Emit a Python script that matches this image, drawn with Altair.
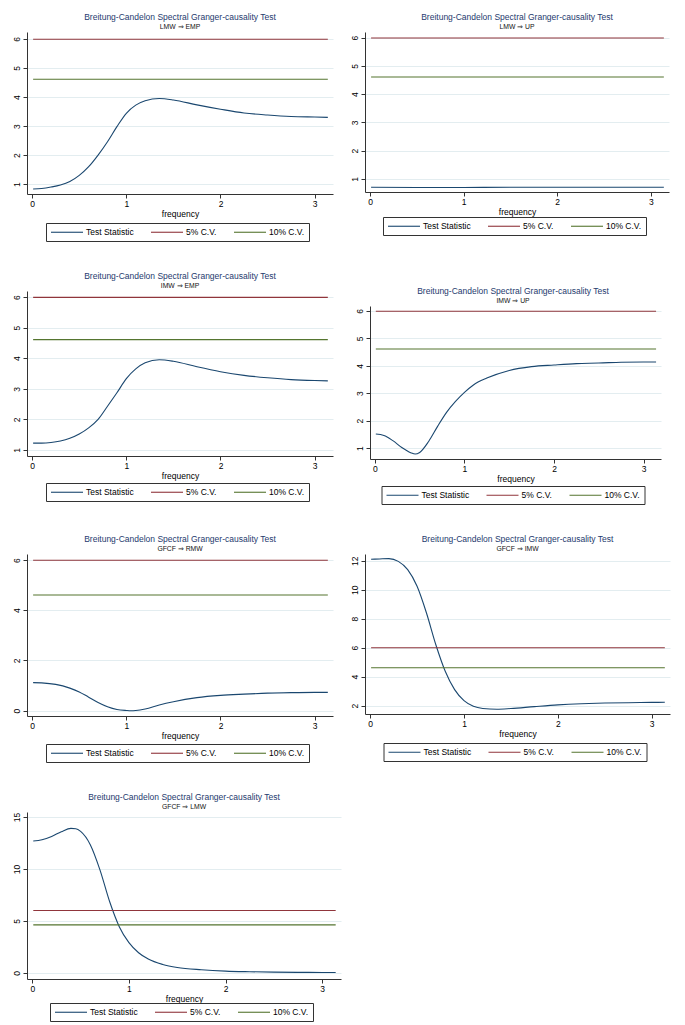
import altair as alt
import pandas as pd

FONT = "Liberation Sans"
TITLE = "Breitung-Candelon Spectral Granger-causality Test"
SERIES = ["Test Statistic", "5% C.V.", "10% C.V."]
COLORS = ["#1a476f", "#90353b", "#55752f"]
CV5 = 5.99
CV10 = 4.61
X_TICKS = [0, 1, 2, 3]

# Panel 1: LMW => EMP
P1_NAME = "LMW ⇒ EMP"
P1_FREQ = [0.01, 0.1, 0.2, 0.3, 0.4, 0.5, 0.6, 0.7, 0.8, 0.9, 1.0, 1.1, 1.2, 1.35, 1.5, 1.75, 2.0, 2.25, 2.5, 2.75, 3.0, 3.14]
P1_STAT = [0.83, 0.85, 0.9, 0.97, 1.09, 1.3, 1.6, 2.0, 2.46, 2.98, 3.44, 3.72, 3.87, 3.95, 3.9, 3.73, 3.58, 3.45, 3.38, 3.33, 3.31, 3.30]
P1_YTICKS = [1, 2, 3, 4, 5, 6]

# Panel 2: LMW => UP
P2_NAME = "LMW ⇒ UP"
P2_FREQ = [0.01, 0.5, 1.0, 1.5, 2.0, 2.5, 3.0, 3.14]
P2_STAT = [0.71, 0.7, 0.7, 0.71, 0.71, 0.71, 0.71, 0.71]
P2_YTICKS = [1, 2, 3, 4, 5, 6]

# Panel 3: IMW => EMP
P3_NAME = "IMW ⇒ EMP"
P3_FREQ = [0.01, 0.1, 0.2, 0.3, 0.4, 0.5, 0.6, 0.7, 0.8, 0.9, 1.0, 1.1, 1.2, 1.35, 1.5, 1.75, 2.0, 2.25, 2.5, 2.75, 3.0, 3.14]
P3_STAT = [1.22, 1.22, 1.24, 1.29, 1.38, 1.52, 1.72, 2.0, 2.43, 2.87, 3.33, 3.65, 3.85, 3.95, 3.9, 3.72, 3.56, 3.44, 3.36, 3.3, 3.27, 3.26]
P3_YTICKS = [1, 2, 3, 4, 5, 6]

# Panel 4: IMW => UP
P4_NAME = "IMW ⇒ UP"
P4_FREQ = [0.01, 0.1, 0.2, 0.3, 0.4, 0.45, 0.5, 0.6, 0.7, 0.8, 0.9, 1.0, 1.1, 1.25, 1.5, 1.75, 2.0, 2.25, 2.5, 2.75, 3.0, 3.14]
P4_STAT = [1.51, 1.46, 1.27, 1.02, 0.83, 0.78, 0.84, 1.24, 1.79, 2.3, 2.7, 3.03, 3.3, 3.55, 3.83, 3.97, 4.03, 4.08, 4.1, 4.13, 4.14, 4.14]
P4_YTICKS = [1, 2, 3, 4, 5, 6]

# Panel 5: GFCF => RMW
P5_NAME = "GFCF ⇒ RMW"
P5_FREQ = [0.01, 0.1, 0.25, 0.4, 0.5, 0.6, 0.7, 0.8, 0.9, 1.0, 1.05, 1.1, 1.2, 1.35, 1.5, 1.75, 2.0, 2.25, 2.5, 2.75, 3.0, 3.14]
P5_STAT = [1.12, 1.11, 1.05, 0.9, 0.75, 0.54, 0.33, 0.16, 0.05, 0.01, 0.0, 0.01, 0.07, 0.23, 0.36, 0.52, 0.61, 0.66, 0.7, 0.72, 0.73, 0.73]
P5_YTICKS = [0, 2, 4, 6]

# Panel 6: GFCF => IMW
P6_NAME = "GFCF ⇒ IMW"
P6_FREQ = [0.01, 0.1, 0.2, 0.3, 0.4, 0.5, 0.6, 0.7, 0.8, 0.9, 1.0, 1.1, 1.2, 1.35, 1.5, 1.75, 2.0, 2.25, 2.5, 2.75, 3.0, 3.14]
P6_STAT = [12.1, 12.12, 12.14, 11.95, 11.38, 10.23, 8.39, 6.2, 4.37, 3.1, 2.34, 1.95, 1.8, 1.75, 1.8, 1.93, 2.05, 2.13, 2.18, 2.2, 2.22, 2.23]
P6_YTICKS = [2, 4, 6, 8, 10, 12]

# Panel 7: GFCF => LMW
P7_NAME = "GFCF ⇒ LMW"
P7_FREQ = [0.01, 0.1, 0.2, 0.3, 0.4, 0.45, 0.5, 0.6, 0.7, 0.8, 0.9, 1.0, 1.1, 1.2, 1.35, 1.5, 1.75, 2.0, 2.25, 2.5, 2.75, 3.0, 3.14]
P7_STAT = [12.68, 12.81, 13.13, 13.58, 13.9, 13.87, 13.61, 12.33, 9.91, 6.86, 4.44, 2.9, 1.93, 1.32, 0.8, 0.51, 0.29, 0.16, 0.1, 0.06, 0.04, 0.03, 0.03]
P7_YTICKS = [0, 5, 10, 15]

LEGEND_W = 268


def panel(sub, freq, stat, yticks, ydom, w, h, lgap=29, inset_x=0, inset_y=0):
    rows = [{"freq": f, "value": v, "series": SERIES[0]} for f, v in zip(freq, stat)]
    for s, cv in ((SERIES[1], CV5), (SERIES[2], CV10)):
        rows.append({"freq": freq[0], "value": cv, "series": s})
        rows.append({"freq": freq[-1], "value": cv, "series": s})
    df = pd.DataFrame(rows)
    xscale = dict(domain=[-0.055, 3.195], nice=False, zero=False)
    yscale = dict(domain=ydom, nice=False, zero=False)
    yaxis_extra = {}
    if inset_x:
        xscale["range"] = [inset_x, w]
        yaxis_extra["offset"] = -inset_x
    if inset_y:
        yscale["range"] = [h, inset_y]
    plot_w = w - inset_x
    return alt.Chart(df).mark_line(interpolate="monotone", strokeWidth=1.1).encode(
        x=alt.X("freq:Q", scale=alt.Scale(**xscale),
                axis=alt.Axis(values=X_TICKS, title="frequency", grid=False,
                              labelPadding=1, titlePadding=2, format="d")),
        y=alt.Y("value:Q", scale=alt.Scale(**yscale),
                axis=alt.Axis(values=yticks, title=None, labelAngle=270,
                              labelAlign="center", labelBaseline="bottom",
                              labelPadding=2, grid=True, format="d", **yaxis_extra)),
        color=alt.Color("series:N",
                        scale=alt.Scale(domain=SERIES, range=COLORS),
                        legend=alt.Legend(title=None, orient="none",
                                          legendX=inset_x + (plot_w - LEGEND_W) / 2,
                                          legendY=h + lgap,
                                          direction="horizontal", columns=3,
                                          symbolType="M-4,0H4", symbolSize=64,
                                          symbolOffset=12,
                                          symbolStrokeWidth=1.1, labelFontSize=8.5,
                                          labelFont=FONT, labelColor="#000",
                                          columnPadding=14, padding=4, labelOffset=14,
                                          strokeColor="#333", fillColor="white",
                                          gridAlign="each")),
    ).properties(
        width=w, height=h,
        title=alt.TitleParams(text=TITLE, subtitle=sub, fontSize=8.5, subtitleFontSize=6.8,
                              font=FONT, subtitleFont=FONT, color="#1e3a6e",
                              subtitleColor="#111", fontWeight="normal", anchor="middle",
                              offset=1 - inset_y, subtitlePadding=3),
    )


p1 = panel(P1_NAME, P1_FREQ, P1_STAT, P1_YTICKS, [0.66, 6.24], 306, 162, lgap=29)
p2 = panel(P2_NAME, P2_FREQ, P2_STAT, P2_YTICKS, [0.54, 6.2], 304, 160, lgap=25)
p3 = panel(P3_NAME, P3_FREQ, P3_STAT, P3_YTICKS, [0.8, 6.2], 306, 165, lgap=27)
p4 = panel(P4_NAME, P4_FREQ, P4_STAT, P4_YTICKS, [0.6, 6.18], 296, 168, lgap=27,
           inset_x=5, inset_y=15)
p5 = panel(P5_NAME, P5_FREQ, P5_STAT, P5_YTICKS, [-0.21, 6.24], 306, 162, lgap=28)
p6 = panel(P6_NAME, P6_FREQ, P6_STAT, P6_YTICKS, [1.42, 12.46], 305, 160, lgap=29)
p7 = panel(P7_NAME, P7_FREQ, P7_STAT, P7_YTICKS, [-0.6, 15.48], 314, 167, lgap=24)

chart = alt.concat(p1, p2, p3, p4, p5, p6, p7, columns=2, align="each",
                   spacing={"row": 29, "column": 7}).resolve_scale(
    color="independent", x="independent", y="independent"
).properties(
    padding={"left": 3, "top": 4, "right": 2, "bottom": 2},
    background="white",
).configure_view(
    stroke="transparent"
).configure_axis(
    domainColor="#333", tickColor="#333", labelFont=FONT, titleFont=FONT,
    labelFontSize=8.5, titleFontSize=8.5, labelColor="#000", titleColor="#000",
    titleFontWeight="normal", tickSize=4, gridColor="#e3edf0", domainWidth=1
)

chart.save("out.html", embed_options={"renderer": "svg", "actions": False})
